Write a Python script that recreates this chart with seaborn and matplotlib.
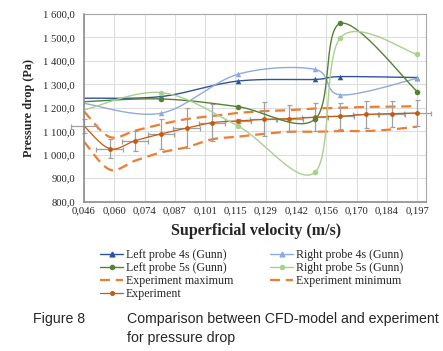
import numpy as np
import pandas as pd
import seaborn as sns
import matplotlib.pyplot as plt
from matplotlib.lines import Line2D

# =======================
# Data
# =======================
velocity_exp = [0.0460, 0.0576, 0.0692, 0.0809, 0.0925, 0.1041, 0.1157,
                0.1274, 0.1390, 0.1506, 0.1622, 0.1738, 0.1854, 0.1970]
experiment = [1123, 1026, 1060, 1089, 1113, 1137, 1144,
              1151, 1154, 1160, 1164, 1172, 1175, 1178]
experiment_err = [30, 40, 43, 64, 85, 78, 8,
                  72, 56, 60, 55, 56, 56, 56]
velocity_err = [0.006] * 14
experiment_max = [1185, 1076, 1103, 1130, 1152, 1165, 1178,
                  1186, 1190, 1197, 1200, 1204, 1205, 1207]
experiment_min = [1056, 937, 975, 1010, 1032, 1066, 1077,
                  1089, 1098, 1098, 1101, 1101, 1108, 1120]

velocity_cfd = [0.0460, 0.0809, 0.1157, 0.1506, 0.1622, 0.1970]
left_probe_4s = [1241, 1248, 1314, 1321, 1333, 1329]
right_probe_4s = [1219, 1177, 1343, 1364, 1255, 1326]
left_probe_5s = [1226, 1238, 1205, 1151, 1560, 1269]
right_probe_5s = [1191, 1265, 1123, 925, 1499, 1428]

x_tick_labels = ["0,046", "0,060", "0,074", "0,087", "0,101", "0,115",
                 "0,129", "0,142", "0,156", "0,170", "0,184", "0,197"]
y_tick_values = [800, 900, 1000, 1100, 1200, 1300, 1400, 1500, 1600]
y_tick_labels = ["800,0", "900,0", "1 000,0", "1 100,0", "1 200,0",
                 "1 300,0", "1 400,0", "1 500,0", "1 600,0"]


def smooth(xs, ys, n=40):
    """Excel-like smoothed line (Catmull-Rom as cubic Bezier)."""
    pts = np.column_stack([xs, ys]).astype(float)
    p = np.vstack([pts[0], pts, pts[-1]])
    t = np.linspace(0, 1, n)[:, None]
    out = []
    for i in range(1, len(p) - 2):
        p0, p1, p2, p3 = p[i - 1], p[i], p[i + 1], p[i + 2]
        c1 = p1 + (p2 - p0) / 6
        c2 = p2 - (p3 - p1) / 6
        seg = ((1 - t) ** 3) * p1 + 3 * ((1 - t) ** 2) * t * c1 \
            + 3 * (1 - t) * t ** 2 * c2 + t ** 3 * p2
        out.append(seg if i == 1 else seg[1:])
    out = np.vstack(out)
    return pd.DataFrame({"x": out[:, 0], "y": out[:, 1]})


sns.set_style("white")
plt.rcParams["font.family"] = ["Liberation Serif", "DejaVu Serif"]

fig = plt.figure(figsize=(4.43, 3.51), dpi=100)
ax = fig.add_axes([0.1896, 0.4254, 0.7713, 0.5348])

# colours
c_left4 = "#2F5597"
c_right4 = "#8FAADC"
c_left5 = "#548235"
c_right5 = "#A9D18E"
c_exp = "#C55A11"
c_dash = "#ED7D31"
c_err = "#A0A0A0"

# experiment min / max (dashed)
for vals in [experiment_max, experiment_min]:
    d = smooth(velocity_exp, vals)
    sns.lineplot(data=d, x="x", y="y", sort=False, estimator=None, ax=ax,
                 color=c_dash, lw=1.6, dashes=False)
    ax.lines[-1].set_dashes((4.5, 2.6))

# experiment with error bars
ax.errorbar(velocity_exp, experiment, yerr=experiment_err, xerr=velocity_err,
            fmt="none", ecolor=c_err, elinewidth=0.9, capsize=1.8,
            capthick=0.9, clip_on=False, zorder=2)
d = smooth(velocity_exp, experiment)
sns.lineplot(data=d, x="x", y="y", sort=False, estimator=None, ax=ax,
             color=c_exp, lw=0.9)
sns.scatterplot(x=velocity_exp[1:], y=experiment[1:], ax=ax, color=c_exp,
                marker="o", s=12, linewidth=0, zorder=4)

# CFD series
cfd = [
    (left_probe_4s, c_left4, "^"),
    (right_probe_4s, c_right4, "^"),
    (left_probe_5s, c_left5, "o"),
    (right_probe_5s, c_right5, "o"),
]
for vals, col, mk in cfd:
    d = smooth(velocity_cfd, vals)
    sns.lineplot(data=d, x="x", y="y", sort=False, estimator=None, ax=ax,
                 color=col, lw=1.0)
    sns.scatterplot(x=velocity_cfd[1:], y=vals[1:], ax=ax, color=col,
                    marker=mk, s=16, linewidth=0, zorder=4)

# axes styling
ax.set_xlim(0.046, 0.2008)
ax.set_ylim(800, 1600)
ax.set_xticks(np.linspace(0.046, 0.197, 12))
ax.set_xticklabels(x_tick_labels)
ax.set_yticks(y_tick_values)
ax.set_yticklabels(y_tick_labels)
ax.tick_params(axis="both", length=0, labelsize=7.7)
ax.tick_params(axis="y", pad=6.5)
ax.tick_params(axis="x", pad=3.5)
ax.grid(True, color="#DEDEDE", lw=0.8)
ax.set_axisbelow(True)
for side in ["top", "right"]:
    ax.spines[side].set_color("#A6A6A6")
    ax.spines[side].set_linewidth(0.8)
for side in ["left", "bottom"]:
    ax.spines[side].set_color("#8C8C8C")
    ax.spines[side].set_linewidth(1.2)

ax.set_xlabel("Superficial velocity (m/s)", fontsize=11.5, fontweight="bold",
              va="top")
ax.xaxis.set_label_coords(0.503, -0.115)
ax.set_ylabel("Pressure drop (Pa)", fontsize=8.8, fontweight="bold")
ax.yaxis.set_label_coords(-0.143, 0.5)

# legend
handles = [
    Line2D([], [], color=c_left4, lw=1.0, marker="^", markersize=3.5),
    Line2D([], [], color=c_left5, lw=1.0, marker="o", markersize=3),
    Line2D([], [], color=c_dash, lw=1.6, ls=(0, (4.5, 2.6))),
    Line2D([], [], color=c_exp, lw=0.9, marker="o", markersize=2.6),
    Line2D([], [], color=c_right4, lw=1.0, marker="^", markersize=3.5),
    Line2D([], [], color=c_right5, lw=1.0, marker="o", markersize=3),
    Line2D([], [], color=c_dash, lw=1.6, ls=(0, (4.5, 2.6))),
]
labels = ["Left probe 4s (Gunn)", "Left probe 5s (Gunn)", "Experiment maximum",
          "Experiment", "Right probe 4s (Gunn)", "Right probe 5s (Gunn)",
          "Experiment minimum"]
fig.legend(handles, labels, ncol=2, loc="upper left",
           bbox_to_anchor=(0.2257, 0.2895), frameon=False, fontsize=8.6,
           handlelength=1.93, handletextpad=0.25, columnspacing=3.1,
           labelspacing=0.07, borderpad=0, borderaxespad=0)

# caption
cap = dict(fontsize=10.2, family=["Liberation Sans", "DejaVu Sans"],
           va="center", ha="left")
fig.text(33 / 443, 1 - 319 / 351, "Figure 8", **cap)
fig.text(127 / 443, 1 - 319 / 351,
         "Comparison between CFD-model and experiment", **cap)
fig.text(127 / 443, 1 - 338 / 351, "for pressure drop", **cap)

fig.savefig("out.png", dpi=100)
